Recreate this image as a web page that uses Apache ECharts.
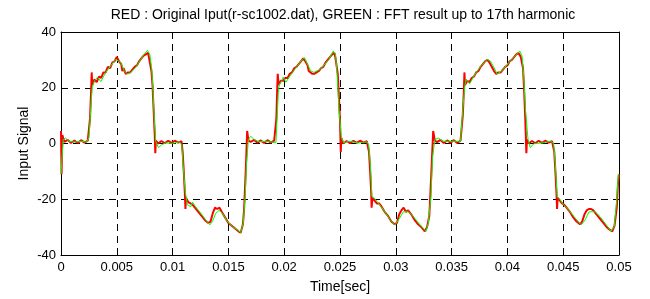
<!DOCTYPE html>
<html>
<head>
<meta charset="utf-8">
<script src="https://cdn.jsdelivr.net/npm/echarts@6/dist/echarts.min.js"></script>
<style>
  html, body {margin: 0; padding: 0; background: #fff;}
  #chart {width: 650px; height: 299px;}
</style>
</head>
<body>
<div id="chart"></div>
<script>
// axis ticks
const xTicks = [0, 0.005, 0.01, 0.015, 0.02, 0.025, 0.03, 0.035, 0.04, 0.045, 0.05];
const yTicks = [-40, -20, 0, 20, 40];

// RED : original input, [time, value]
const redInput = [
  [0,4.5],[0.00005,-11],[0.00012,3],[0.0003,0.6],[0.0006,1.3],[0.0009,0.2],[0.0012,1.1],[0.0015,0.2],[0.0018,1.2],[0.0021,0.3],[0.0024,1],
  [0.0026,9],[0.0027,19],[0.00275,25.5],[0.0028,21],[0.003,23],[0.0032,22],[0.0034,24],[0.0036,23.5],[0.0038,25.5],[0.004,25.5],
  [0.0042,27.5],[0.0044,27],[0.0046,29],[0.0048,29.5],[0.005,31],[0.0052,29.5],[0.0054,28.5],[0.0055,26],[0.0056,27],[0.0058,25],
  [0.006,25.5],[0.0062,25.5],[0.0064,26.5],[0.0066,27.5],[0.0068,28],[0.007,29.5],[0.0072,30.5],[0.0074,31.5],[0.0076,32],[0.0078,32.5],
  [0.0079,30.5],[0.0081,26],[0.0082,21],[0.0083,12],[0.0084,3],[0.00845,-3.5],[0.0085,1],[0.0087,0],[0.009,0.9],[0.0093,0.1],
  [0.0096,1],[0.0099,0.2],[0.0102,1],[0.0105,0.3],[0.0108,0.8],[0.0109,-3],[0.011,-10],[0.0111,-18],[0.01115,-23.5],[0.0112,-19.5],
  [0.0114,-21],[0.0116,-21.5],[0.0118,-22],[0.012,-23],[0.0123,-24.5],[0.0126,-26],[0.0129,-27.5],[0.0132,-28.5],[0.0134,-28],[0.0136,-25],
  [0.0138,-23],[0.014,-23.5],[0.0142,-23],[0.0144,-24.5],[0.0147,-26.5],[0.015,-28.5],[0.0153,-29.5],[0.0156,-30.5],[0.0159,-31.5],[0.0161,-32],
  [0.0163,-29],[0.0164,-24],[0.0165,-15],[0.0166,-5],[0.01668,4.5],[0.0168,1],
  [0.017,0.6],[0.0173,1.3],[0.0176,0.3],[0.0179,1.1],[0.0182,0.2],[0.0185,1.2],[0.0188,0.3],[0.0191,1],[0.0193,9],[0.01937,19],
  [0.01942,25],[0.0195,21],[0.0197,22.5],[0.0199,22.5],[0.0201,23.5],[0.0203,23.5],[0.0205,25],[0.0207,25.5],[0.0209,27],[0.0211,27.5],
  [0.0213,28.5],[0.0215,29.5],[0.0217,30.5],[0.0219,29.5],[0.0221,28],[0.0222,26],[0.0223,26.5],[0.0225,25],[0.0227,25],[0.0229,25.5],
  [0.0231,26],[0.0233,27],[0.0235,27.5],[0.0237,29],[0.0239,30],[0.0241,31],[0.0243,32],[0.0245,32.5],[0.0246,30.5],[0.0248,25],
  [0.0249,17],[0.025,8],[0.02507,-3],[0.02512,2],[0.0253,0],[0.0256,0.9],[0.0259,0.1],[0.0262,1],[0.0265,0.2],[0.0268,1],
  [0.0271,0.3],[0.0274,0.8],[0.0276,-3],[0.0277,-10],[0.0278,-18],[0.02783,-23],[0.0279,-19.5],[0.0281,-20.5],[0.0283,-21.5],[0.0285,-21.5],
  [0.0287,-22.5],[0.029,-24.5],[0.0293,-26],[0.0296,-28],[0.0299,-29],[0.0301,-28.5],[0.0303,-25.5],[0.0305,-24],[0.0307,-23],[0.0309,-24.5],
  [0.0311,-24],[0.0314,-25.5],[0.0317,-27.5],[0.032,-29],[0.0323,-30],[0.0326,-31.5],[0.0328,-30],[0.033,-26],[0.0331,-18],[0.0332,-9],
  [0.03335,4.5],[0.0335,1],
  [0.0337,0.5],[0.034,1.3],[0.0343,0.2],[0.0346,1.1],[0.0349,0.3],[0.0352,1.2],[0.0355,0.2],[0.0358,1],[0.036,10],[0.0361,19],
  [0.03615,25.5],[0.0362,21],[0.0364,22.5],[0.0366,22],[0.0368,23.5],[0.037,24],[0.0372,25.5],[0.0374,26],[0.0376,27.5],[0.0378,28.5],
  [0.038,29.5],[0.0382,30],[0.0384,29],[0.0386,27.5],[0.0388,26],[0.039,25],[0.0392,25.5],[0.0394,25.5],[0.0396,26.5],[0.0398,27.5],
  [0.04,28],[0.0402,29.5],[0.0404,30],[0.0406,31],[0.0408,32],[0.041,32.5],[0.0412,31],[0.0414,27],[0.0415,19],[0.0416,9],
  [0.0417,-3.5],[0.04175,1.5],[0.0419,0],[0.0422,0.9],[0.0425,0.1],[0.0428,1],[0.0431,0.2],[0.0434,1],[0.0437,0.3],[0.044,0.8],
  [0.0442,-3],[0.0443,-10],[0.0444,-18],[0.04445,-23.5],[0.0445,-19.5],[0.0447,-20.5],[0.0449,-21.5],[0.0451,-22],[0.0453,-23],[0.0456,-24.5],
  [0.0459,-26.5],[0.0462,-28],[0.0465,-29],[0.0467,-28],[0.0469,-25.5],[0.0471,-24],[0.0473,-23.5],[0.0475,-23.5],[0.0477,-24],[0.048,-25.5],
  [0.0483,-27],[0.0486,-28.5],[0.0489,-30],[0.0492,-31],[0.0494,-31.5],[0.0496,-29.5],[0.0498,-23],[0.0499,-15],[0.05,-11]
];

// GREEN : FFT result up to 17th harmonic
const greenFft = [
  [0,-11],[0.0002,1.5],[0.0004,2],[0.0007,0.8],[0.0012,0.5],[0.0018,0.8],[0.0023,0.5],[0.0025,2],[0.0026,8],[0.0027,15],
  [0.0028,20],[0.003,22.5],[0.00327,23.8],[0.00357,22.2],[0.00401,25.5],[0.00446,27.9],[0.00491,30.2],[0.00506,30.8],[0.00536,29],[0.00566,26.1],
  [0.00596,24.9],[0.00625,25.5],[0.0067,27.3],[0.00715,30.2],[0.00745,32],[0.00775,33.4],[0.00796,32],[0.00813,26.7],[0.00825,18.5],[0.00837,7.9],
  [0.00849,0.8],[0.00873,-1.5],[0.00903,-0.4],[0.00939,0.2],[0.00999,0],[0.01058,0.6],[0.01082,-0.3],[0.01094,-7.4],[0.01112,-16.8],[0.01133,-22],
  [0.01163,-22.7],[0.01178,-21],[0.01207,-22.7],[0.01252,-25],[0.01297,-27.4],[0.01333,-29.2],[0.01357,-28],[0.01387,-25],[0.01416,-24],[0.01446,-25],
  [0.01491,-28],[0.01536,-29.8],[0.01581,-31],[0.0161,-31.9],[0.01633,-28.6],[0.0165,-19],[0.01662,-7.4],[0.01679,1.4],[0.017,2.6],[0.01731,1.4],
  [0.01777,0.6],[0.01837,0.8],[0.01896,0.5],[0.01926,0.3],[0.01935,8],[0.01947,18],[0.01955,21],[0.01979,22.6],[0.01991,23.8],[0.02015,22],
  [0.02074,25.5],[0.02119,27.9],[0.02163,30.2],[0.02181,30.8],[0.02208,28.5],[0.02237,26.1],[0.02267,25.5],[0.02326,26.7],[0.02401,30.2],[0.02439,33.2],
  [0.0246,32],[0.02475,24.4],[0.0249,12.6],[0.02513,2],[0.02534,0.2],[0.02579,0.8],[0.02668,0.2],[0.02742,0.6],[0.02757,-0.4],[0.02772,-7.4],
  [0.02786,-19],[0.02816,-20],[0.02846,-21.5],[0.0289,-23.8],[0.0295,-27.4],[0.02994,-29.2],[0.03024,-27.4],[0.03068,-24.5],[0.03113,-24.5],[0.03157,-26.2],
  [0.03217,-29.2],[0.0327,-31.5],[0.03291,-28.6],[0.03315,-19],[0.03329,-5],[0.0335,1.4],[0.0338,2],[0.03424,0.8],[0.03476,0.8],[0.0358,0.8],
  [0.03601,12.6],[0.03619,20.8],[0.03631,23.1],[0.03661,21.4],[0.03685,23.1],[0.0372,25.5],[0.03765,27.9],[0.03818,30.2],[0.03848,29.6],[0.03887,26.7],
  [0.03908,24.9],[0.03952,26.1],[0.04012,29],[0.04071,31.4],[0.0411,33.2],[0.04131,31.4],[0.04146,24.4],[0.04161,12.6],[0.04185,1.4],[0.04205,-1.5],
  [0.04235,-0.1],[0.0431,0.2],[0.04384,0.8],[0.04414,0.2],[0.04429,-7.4],[0.04446,-19],[0.04473,-20.2],[0.04503,-22],[0.04548,-23.8],[0.04607,-26.7],
  [0.04661,-29.2],[0.04696,-27.4],[0.04732,-24.5],[0.04786,-24.5],[0.0483,-26.2],[0.04875,-28.6],[0.04929,-31.5],[0.04958,-29.8],[0.04979,-20.4],[0.04994,-11],
  [0.05,-11]
];

const font = 'Liberation Sans, Arial, sans-serif';
const fmtX = v => String(+v.toFixed(3));

let myChart = echarts.init(document.getElementById('chart'), null, {renderer: 'canvas'});

const frameX = {
  type: 'value', min: 0, max: 0.05, interval: 0.005,
  axisLine: {show: true, onZero: false, lineStyle: {color: '#000', width: 1}},
  axisTick: {show: true, inside: true, length: 5, lineStyle: {color: '#000'}},
};
const frameY = {
  type: 'value', min: -40, max: 40, interval: 20,
  axisLine: {show: true, onZero: false, lineStyle: {color: '#000', width: 1}},
  axisTick: {show: true, inside: true, length: 5, lineStyle: {color: '#000'}},
};

myChart.setOption({
  animation: false,
  backgroundColor: '#fff',
  title: {
    text: 'RED : Original Iput(r-sc1002.dat), GREEN : FFT result up to 17th harmonic',
    left: 338, top: 3, textAlign: 'center',
    textStyle: {fontFamily: font, fontSize: 14, fontWeight: 'normal', color: '#000'}
  },
  grid: {left: 61, right: 31, top: 32, bottom: 42},
  xAxis: [
    Object.assign({}, frameX, {
      position: 'bottom',
      name: 'Time[sec]', nameLocation: 'middle', nameGap: 25, nameMoveOverlap: false,
      nameTextStyle: {fontFamily: font, fontSize: 14, color: '#000'},
      axisLabel: {fontFamily: font, fontSize: 13, color: '#000', margin: 6, formatter: fmtX},
      splitLine: {show: true, lineStyle: {color: '#000', type: [7, 5], width: 1}}
    }),
    Object.assign({}, frameX, {position: 'top', axisLabel: {show: false}, splitLine: {show: false}})
  ],
  yAxis: [
    Object.assign({}, frameY, {
      position: 'left',
      name: 'Input Signal', nameLocation: 'middle', nameGap: 30, nameRotate: 90, nameMoveOverlap: false,
      nameTextStyle: {fontFamily: font, fontSize: 14, color: '#000'},
      axisLabel: {fontFamily: font, fontSize: 13, color: '#000', margin: 5},
      splitLine: {show: true, lineStyle: {color: '#000', type: [7, 5], width: 1}}
    }),
    Object.assign({}, frameY, {position: 'right', axisLabel: {show: false}, splitLine: {show: false}})
  ],
  series: [
    {
      name: 'RED', type: 'line', data: redInput, showSymbol: false,
      lineStyle: {color: '#ff0000', width: 2}, z: 2
    },
    {
      name: 'GREEN', type: 'line', data: greenFft, showSymbol: false,
      lineStyle: {color: '#00ff00', width: 1}, z: 3
    }
  ]
});
</script>
</body>
</html>
